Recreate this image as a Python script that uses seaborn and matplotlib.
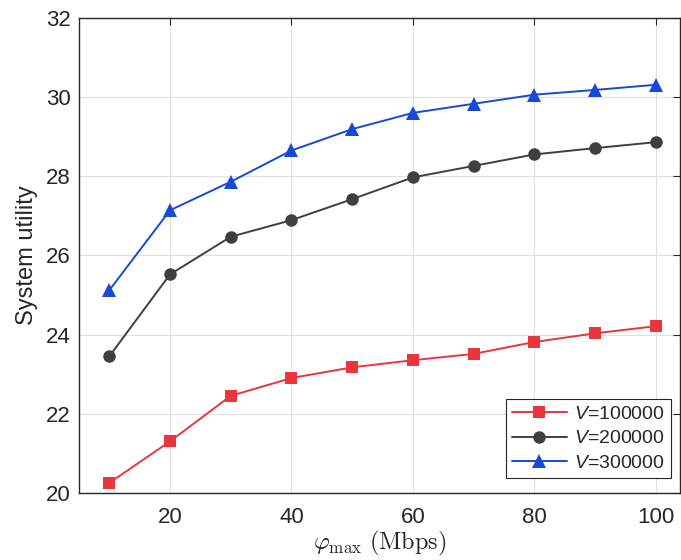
import matplotlib
matplotlib.use("Agg")
import matplotlib.pyplot as plt
import seaborn as sns
import pandas as pd

phi_max = [10, 20, 30, 40, 50, 60, 70, 80, 90, 100]
u_v100k = [20.25, 21.30, 22.45, 22.90, 23.17, 23.35, 23.51, 23.81, 24.03, 24.21]
u_v200k = [23.45, 25.52, 26.47, 26.89, 27.42, 27.97, 28.26, 28.55, 28.71, 28.86]
u_v300k = [25.12, 27.14, 27.86, 28.65, 29.19, 29.60, 29.83, 30.06, 30.18, 30.31]
series_labels = ["$V$=100000", "$V$=200000", "$V$=300000"]
x_ticks = [20, 40, 60, 80, 100]
y_ticks = [20, 22, 24, 26, 28, 30, 32]

sns.set_theme(style="white")
plt.rcParams["font.family"] = ["Liberation Sans", "DejaVu Sans"]
plt.rcParams["mathtext.fontset"] = "custom"
plt.rcParams["mathtext.it"] = "Liberation Sans:italic"
plt.rcParams["mathtext.rm"] = "Liberation Sans"

df = pd.concat([
    pd.DataFrame({"phi": phi_max, "utility": vals, "series": lab})
    for vals, lab in zip([u_v100k, u_v200k, u_v300k], series_labels)
])

colors = {series_labels[0]: "#e8363c", series_labels[1]: "#3f3f3f", series_labels[2]: "#1748d8"}
markers = {series_labels[0]: "s", series_labels[1]: "o", series_labels[2]: "^"}
msizes = {series_labels[0]: 8, series_labels[1]: 9, series_labels[2]: 10.5}

fig = plt.figure(figsize=(6.81, 5.6), dpi=100)
ax = fig.add_axes([0.116, 0.12, 0.8825, 0.848])

for lab in series_labels:
    sub = df[df["series"] == lab]
    sns.lineplot(data=sub, x="phi", y="utility", ax=ax, color=colors[lab],
                 marker=markers[lab], markersize=msizes[lab], markeredgewidth=0,
                 linewidth=1.4, label=lab, legend=False)

ax.set_xlim(5, 104)
ax.set_ylim(20, 32)
ax.set_xticks(x_ticks)
ax.set_yticks(y_ticks)
ax.grid(True, color="#e0e0e0", linewidth=0.8)
ax.set_axisbelow(True)
for sp in ax.spines.values():
    sp.set_color("#262626")
    sp.set_linewidth(1.0)
ax.tick_params(axis="both", which="both", direction="in", length=5, width=0.8,
               colors="#262626", labelsize=16, top=True, right=True,
               labelcolor="#262626", pad=10)
ax.tick_params(axis="y", pad=6)

ax.set_ylabel("System utility", fontsize=17, color="#262626", labelpad=6)
ax.set_xlabel(r"$\varphi_{\max}\ (\mathrm{Mbps})$", fontsize=17.5, color="#262626",
              math_fontfamily="cm", labelpad=1)

handles, labels = ax.get_legend_handles_labels()
leg = ax.legend(handles, labels, loc="lower right", bbox_to_anchor=(0.985, 0.032),
                fontsize=14, frameon=True, fancybox=False, edgecolor="#262626",
                framealpha=1, handlelength=2.8, borderpad=0.3, labelspacing=0.35,
                handletextpad=0.4, borderaxespad=0.0)
leg.get_frame().set_linewidth(0.8)

fig.savefig("out.png", dpi=100)
